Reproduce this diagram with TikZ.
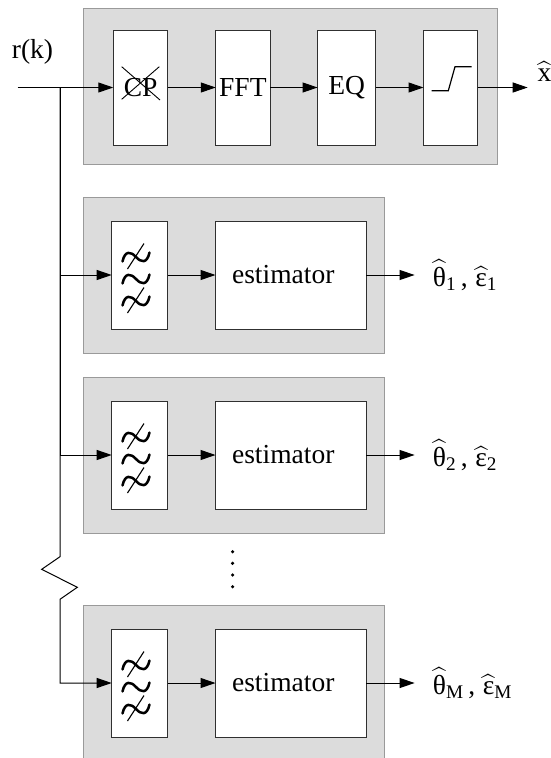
\RequirePackage{fix-cm}
\documentclass[tikz,border=0pt]{standalone}
\usepackage{amsmath}
\usepackage{fontspec}
\setmainfont{Liberation Serif}
\usetikzlibrary{arrows.meta}
\definecolor{panel}{HTML}{DCDCDC}
\definecolor{panelline}{HTML}{9A9A9A}
\definecolor{boxline}{HTML}{303030}
\begin{document}
\begin{tikzpicture}[x=1pt,y=-1pt,
  font=\fontsize{27.5}{31}\selectfont,
  panelbox/.style={draw=panelline,fill=panel,line width=1pt,inner sep=0,outer sep=0,minimum height=156},
  blk/.style={draw=boxline,fill=white,line width=1pt,inner sep=0,outer sep=0},
  topblk/.style={blk,minimum height=115},
  filt/.style={blk,minimum width=56.1,minimum height=108},
  est/.style={blk,minimum width=150.5,minimum height=108},
  arr/.style={line width=1pt,-{Triangle[length=15pt,width=10pt]}},
  tld/.pic={\draw[line width=2.5pt,line cap=round] (-13.5,4.5) .. controls (-11,-7) and (-5,-5.5) .. (0,0) .. controls (5,5.5) and (11,7) .. (13.5,-4.5);},
  tldx/.pic={\draw[line width=2.5pt,line cap=round] (-13.5,4.5) .. controls (-11,-7) and (-5,-5.5) .. (0,0) .. controls (5,5.5) and (11,7) .. (13.5,-4.5);
             \draw[line width=1.1pt] (-8.5,12) -- (8,-13.5);},
  dotmark/.style={circle,fill=black,inner sep=0,minimum size=3.6pt}
]
\useasboundingbox (0,0) rectangle (551,758);

% top panel
\node[panelbox,minimum width=414.7] (P0) at (290.35,86.3) {};
\node[topblk,minimum width=54.7] (cp) at (140.6,87.5) {CP};
\node[topblk,minimum width=54.3] (fft) at (242.9,87.5) {FFT};
\node[topblk,minimum width=58] (eq) at (346.6,87.5) {EQ};
\node[topblk,minimum width=54.2] (th) at (450.6,87.5) {};
\draw[line width=0.9pt] ([shift={(-18.9,-20.8)}]cp.center) -- ([shift={(19.4,12.5)}]cp.center);
\draw[line width=0.9pt] ([shift={(-18.9,11.8)}]cp.center) -- ([shift={(18.7,-20.8)}]cp.center);
\draw[line width=1.2pt] ([shift={(-18.9,3.2)}]th.center) -- ([shift={(-2.3,3.2)}]th.center)
  -- ([shift={(4.4,-20.8)}]th.center) -- ([shift={(21.1,-20.8)}]th.center);

\node[anchor=base] (rk) at (32.5,58.5) {r(k)};
\node[anchor=base west,inner sep=0] (xh) at (537.5,81) {$\widehat{\text{x}}$};

\coordinate (in) at (17.6,87.5);
\coordinate (j0) at (60,87.5);
\coordinate (xo) at (527.7,87.5);
\draw[arr] (in) -- (cp);
\draw[arr] (cp) -- (fft);
\draw[arr] (fft) -- (eq);
\draw[arr] (eq) -- (th);
\draw[arr] (th) -- (xo);

% estimator panels
\foreach \i/\sy/\sub in {1/275/1,2/455/2,3/683/M}{
  \node[panelbox,minimum width=300.7] (P\i) at (233.65,\sy) {};
  \node[filt] (f\i) at (139.75,\sy) {};
  \node[est] (e\i) at (290.75,\sy) {estimator\hspace*{15pt}};
  \pic at (136,\sy-18) {tldx};
  \pic at (136,\sy+4) {tld};
  \pic at (136,\sy+26) {tldx};
  \coordinate (o\i) at (414.6,\sy);
  \draw[arr] (f\i) -- (e\i);
  \draw[arr] (e\i) -- (o\i);
  \node[anchor=base west,inner sep=0] (lab\i) at (432.7,\sy+11.5)
    {$\widehat{\text{θ}}_{\text{\sub}}\,\text{,}\;\widehat{\text{ε}}_{\text{\sub}}$};
}

\draw[arr] (j0) |- (f1.west);
\draw[arr] (j0) |- (f2.west);
\coordinate (z1) at (60,556.7);
\coordinate (z2) at (41.7,569.3);
\coordinate (z3) at (77.3,587.3);
\coordinate (z4) at (60,599.3);
\draw[arr] (j0) -- (z1) -- (z2) -- (z3) -- (z4) |- (f3.west);

\foreach \k/\yy in {1/551.7,2/563.3,3/575,4/586.7}{
  \node[dotmark] (d\k) at (232.6,\yy) {};
}
\end{tikzpicture}
\end{document}
